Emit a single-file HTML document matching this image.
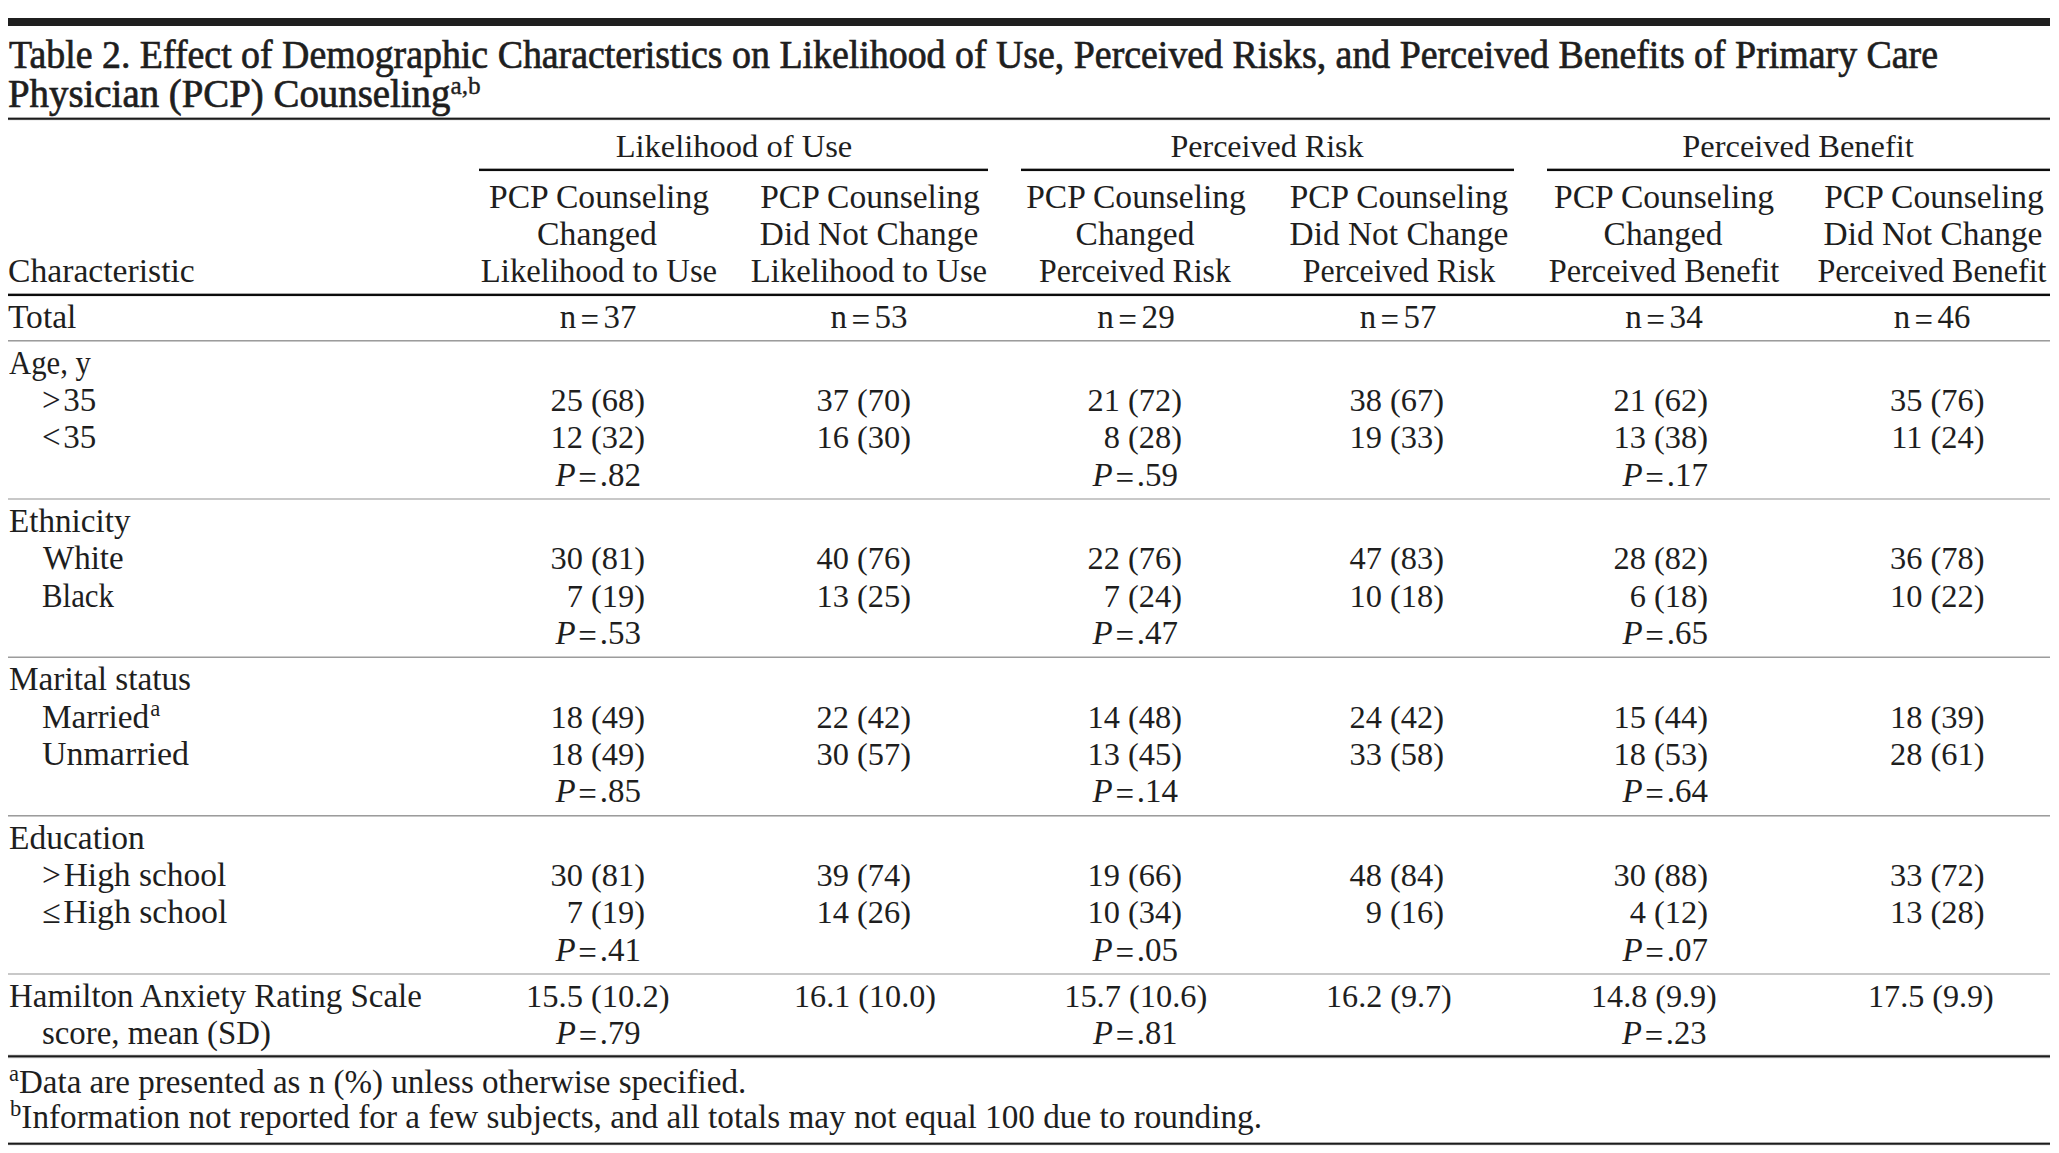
<!DOCTYPE html>
<html><head><meta charset="utf-8"><title>Table 2</title>
<style>
html,body{margin:0;padding:0;background:#fff;}
body{width:2059px;height:1153px;position:relative;overflow:hidden;
 font-family:"Liberation Serif","Times New Roman",serif;font-size:33px;line-height:33px;color:#1e1e1e;}
div{position:absolute;white-space:nowrap;}
.eq{margin:0 4.5px;position:relative;top:2.6px;}
.pe{position:relative;top:2.8px;}
.tt{-webkit-text-stroke:0.7px #1e1e1e;}
sup{line-height:0;}
.ts{font-size:26px;vertical-align:0;position:relative;top:-13px;-webkit-text-stroke:0.4px #1e1e1e;}
.s{font-size:22.5px;vertical-align:0;position:relative;top:-11.7px;margin-left:1px;}
.f{font-size:22.5px;vertical-align:0;position:relative;top:-12px;}
</style></head><body>
<div class="r" style="left:8px;width:2042px;top:18px;height:8px;background:#1f1f1f"></div>
<div class="r" style="left:8px;width:2042px;top:117px;height:1px;background:#a8a8a8"></div>
<div class="r" style="left:8px;width:2042px;top:118px;height:1px;background:#1c1c1c"></div>
<div class="r" style="left:8px;width:2042px;top:119px;height:1px;background:#4a4a4a"></div>
<div class="r" style="left:8px;width:2042px;top:120px;height:1px;background:#f0f0f0"></div>
<div class="r" style="left:479px;width:509px;top:168px;height:1px;background:#a8a8a8"></div>
<div class="r" style="left:479px;width:509px;top:169px;height:1px;background:#0c0c0c"></div>
<div class="r" style="left:479px;width:509px;top:170px;height:1px;background:#0c0c0c"></div>
<div class="r" style="left:479px;width:509px;top:171px;height:1px;background:#ececec"></div>
<div class="r" style="left:1021px;width:493px;top:168px;height:1px;background:#a8a8a8"></div>
<div class="r" style="left:1021px;width:493px;top:169px;height:1px;background:#0c0c0c"></div>
<div class="r" style="left:1021px;width:493px;top:170px;height:1px;background:#0c0c0c"></div>
<div class="r" style="left:1021px;width:493px;top:171px;height:1px;background:#ececec"></div>
<div class="r" style="left:1547px;width:503px;top:168px;height:1px;background:#a8a8a8"></div>
<div class="r" style="left:1547px;width:503px;top:169px;height:1px;background:#0c0c0c"></div>
<div class="r" style="left:1547px;width:503px;top:170px;height:1px;background:#0c0c0c"></div>
<div class="r" style="left:1547px;width:503px;top:171px;height:1px;background:#ececec"></div>
<div class="r" style="left:8px;width:2042px;top:293px;height:1px;background:#a8a8a8"></div>
<div class="r" style="left:8px;width:2042px;top:294px;height:1px;background:#0c0c0c"></div>
<div class="r" style="left:8px;width:2042px;top:295px;height:1px;background:#0c0c0c"></div>
<div class="r" style="left:8px;width:2042px;top:296px;height:1px;background:#ececec"></div>
<div class="r" style="left:8px;width:2042px;top:340px;height:1px;background:#9c9c9c"></div>
<div class="r" style="left:8px;width:2042px;top:341px;height:1px;background:#c8c8c8"></div>
<div class="r" style="left:8px;width:2042px;top:498px;height:1px;background:#c8c8c8"></div>
<div class="r" style="left:8px;width:2042px;top:499px;height:1px;background:#c8c8c8"></div>
<div class="r" style="left:8px;width:2042px;top:656px;height:1px;background:#cdcdcd"></div>
<div class="r" style="left:8px;width:2042px;top:657px;height:1px;background:#9c9c9c"></div>
<div class="r" style="left:8px;width:2042px;top:815px;height:1px;background:#9c9c9c"></div>
<div class="r" style="left:8px;width:2042px;top:816px;height:1px;background:#c8c8c8"></div>
<div class="r" style="left:8px;width:2042px;top:973px;height:1px;background:#c8c8c8"></div>
<div class="r" style="left:8px;width:2042px;top:974px;height:1px;background:#c8c8c8"></div>
<div class="r" style="left:8px;width:2042px;top:1054px;height:1px;background:#e6e6e6"></div>
<div class="r" style="left:8px;width:2042px;top:1055px;height:1px;background:#505050"></div>
<div class="r" style="left:8px;width:2042px;top:1056px;height:1px;background:#1c1c1c"></div>
<div class="r" style="left:8px;width:2042px;top:1057px;height:1px;background:#8a8a8a"></div>
<div class="r" style="left:8px;width:2042px;top:1058px;height:1px;background:#f0f0f0"></div>
<div class="r" style="left:8px;width:2042px;top:1142px;height:1px;background:#a8a8a8"></div>
<div class="r" style="left:8px;width:2042px;top:1143px;height:1px;background:#1c1c1c"></div>
<div class="r" style="left:8px;width:2042px;top:1144px;height:1px;background:#505050"></div>
<div class="r" style="left:8px;width:2042px;top:1145px;height:1px;background:#f0f0f0"></div>
<div class="tt" style="left:9.00px;top:35.00px;font-size:40px;line-height:40px;transform-origin:0 0;transform:scaleX(0.9465);">Table 2. Effect of Demographic Characteristics on Likelihood of Use, Perceived Risks, and Perceived Benefits of Primary Care</div>
<div class="tt" style="left:7.97px;top:74.00px;font-size:40px;line-height:40px;transform-origin:0 0;transform:scaleX(0.9712);">Physician (PCP) Counseling<sup class="ts">a,b</sup></div>
<div style="left:134.25px;width:1200px;text-align:center;top:130.00px;font-size:32.3px;line-height:32.3px;transform-origin:50% 0;transform:scaleX(1.0064);">Likelihood of Use</div>
<div style="left:667.25px;width:1200px;text-align:center;top:130.00px;font-size:32.3px;line-height:32.3px;transform-origin:50% 0;transform:scaleX(0.9923);">Perceived Risk</div>
<div style="left:1198.00px;width:1200px;text-align:center;top:130.00px;font-size:32.3px;line-height:32.3px;transform-origin:50% 0;transform:scaleX(1.0044);">Perceived Benefit</div>
<div style="left:-1.30px;width:1200px;text-align:center;top:181.00px;transform-origin:50% 0;transform:scaleX(1.0187);">PCP Counseling</div>
<div style="left:-2.71px;width:1200px;text-align:center;top:218.00px;transform-origin:50% 0;transform:scaleX(1.0216);">Changed</div>
<div style="left:-1.50px;width:1200px;text-align:center;top:255.00px;transform-origin:50% 0;transform:scaleX(0.9916);">Likelihood to Use</div>
<div style="left:269.80px;width:1200px;text-align:center;top:181.00px;transform-origin:50% 0;transform:scaleX(1.0163);">PCP Counseling</div>
<div style="left:268.60px;width:1200px;text-align:center;top:218.00px;transform-origin:50% 0;transform:scaleX(1.0094);">Did Not Change</div>
<div style="left:269.20px;width:1200px;text-align:center;top:255.00px;transform-origin:50% 0;transform:scaleX(0.9916);">Likelihood to Use</div>
<div style="left:536.10px;width:1200px;text-align:center;top:181.00px;transform-origin:50% 0;transform:scaleX(1.0164);">PCP Counseling</div>
<div style="left:534.80px;width:1200px;text-align:center;top:218.00px;transform-origin:50% 0;transform:scaleX(1.0130);">Changed</div>
<div style="left:535.40px;width:1200px;text-align:center;top:255.00px;transform-origin:50% 0;transform:scaleX(0.9647);">Perceived Risk</div>
<div style="left:798.90px;width:1200px;text-align:center;top:181.00px;transform-origin:50% 0;transform:scaleX(1.0116);">PCP Counseling</div>
<div style="left:798.51px;width:1200px;text-align:center;top:218.00px;transform-origin:50% 0;transform:scaleX(1.0117);">Did Not Change</div>
<div style="left:798.51px;width:1200px;text-align:center;top:255.00px;transform-origin:50% 0;transform:scaleX(0.9672);">Perceived Risk</div>
<div style="left:1064.00px;width:1200px;text-align:center;top:181.00px;transform-origin:50% 0;transform:scaleX(1.0187);">PCP Counseling</div>
<div style="left:1063.40px;width:1200px;text-align:center;top:218.00px;transform-origin:50% 0;transform:scaleX(1.0130);">Changed</div>
<div style="left:1064.01px;width:1200px;text-align:center;top:255.00px;transform-origin:50% 0;transform:scaleX(0.9786);">Perceived Benefit</div>
<div style="left:1333.50px;width:1200px;text-align:center;top:181.00px;transform-origin:50% 0;transform:scaleX(1.0163);">PCP Counseling</div>
<div style="left:1332.60px;width:1200px;text-align:center;top:218.00px;transform-origin:50% 0;transform:scaleX(1.0117);">Did Not Change</div>
<div style="left:1332.12px;width:1200px;text-align:center;top:255.00px;transform-origin:50% 0;transform:scaleX(0.9723);">Perceived Benefit</div>
<div style="left:8.48px;top:255.00px;transform-origin:0 0;transform:scaleX(1.0194);">Characteristic</div>
<div style="left:7.99px;top:301.00px;transform-origin:0 0;transform:scaleX(1.0152);">Total</div>
<div style="left:-2.30px;width:1200px;text-align:center;top:301.00px;transform-origin:50% 0;transform:scaleX(0.9937);">n<span class="eq">=</span>37</div>
<div style="left:269.30px;width:1200px;text-align:center;top:301.00px;transform-origin:50% 0;transform:scaleX(1.0002);">n<span class="eq">=</span>53</div>
<div style="left:536.02px;width:1200px;text-align:center;top:301.00px;transform-origin:50% 0;transform:scaleX(1.0068);">n<span class="eq">=</span>29</div>
<div style="left:797.99px;width:1200px;text-align:center;top:301.00px;transform-origin:50% 0;transform:scaleX(0.9937);">n<span class="eq">=</span>57</div>
<div style="left:1064.30px;width:1200px;text-align:center;top:301.00px;transform-origin:50% 0;transform:scaleX(1.0066);">n<span class="eq">=</span>34</div>
<div style="left:1332.40px;width:1200px;text-align:center;top:301.00px;transform-origin:50% 0;transform:scaleX(0.9937);">n<span class="eq">=</span>46</div>
<div style="left:9.03px;top:347.00px;transform-origin:0 0;transform:scaleX(0.9311);">Age, y</div>
<div style="left:41.60px;top:384.00px;transform-origin:0 0;transform:scaleX(1.0002);">&gt; 35</div>
<div style="left:-555.00px;width:1200px;text-align:right;top:384.00px;font-size:32.4px;line-height:32.4px;">25 (68)</div>
<div style="left:-289.00px;width:1200px;text-align:right;top:384.00px;font-size:32.4px;line-height:32.4px;">37 (70)</div>
<div style="left:-18.00px;width:1200px;text-align:right;top:384.00px;font-size:32.4px;line-height:32.4px;">21 (72)</div>
<div style="left:244.00px;width:1200px;text-align:right;top:384.00px;font-size:32.4px;line-height:32.4px;">38 (67)</div>
<div style="left:508.00px;width:1200px;text-align:right;top:384.00px;font-size:32.4px;line-height:32.4px;">21 (62)</div>
<div style="left:784.50px;width:1200px;text-align:right;top:384.00px;font-size:32.4px;line-height:32.4px;">35 (76)</div>
<div style="left:41.60px;top:421.00px;transform-origin:0 0;transform:scaleX(1.0002);">&lt; 35</div>
<div style="left:-555.00px;width:1200px;text-align:right;top:421.00px;font-size:32.4px;line-height:32.4px;">12 (32)</div>
<div style="left:-289.00px;width:1200px;text-align:right;top:421.00px;font-size:32.4px;line-height:32.4px;">16 (30)</div>
<div style="left:-18.00px;width:1200px;text-align:right;top:421.00px;font-size:32.4px;line-height:32.4px;"> 8 (28)</div>
<div style="left:244.00px;width:1200px;text-align:right;top:421.00px;font-size:32.4px;line-height:32.4px;">19 (33)</div>
<div style="left:508.00px;width:1200px;text-align:right;top:421.00px;font-size:32.4px;line-height:32.4px;">13 (38)</div>
<div style="left:784.50px;width:1200px;text-align:right;top:421.00px;font-size:32.4px;line-height:32.4px;">11 (24)</div>
<div style="left:555.40px;top:459.00px;"><i>P</i> <span class="pe">=</span> .82</div>
<div style="left:1092.50px;top:459.00px;"><i>P</i> <span class="pe">=</span> .59</div>
<div style="left:1622.40px;top:459.00px;"><i>P</i> <span class="pe">=</span> .17</div>
<div style="left:9.00px;top:505.00px;transform-origin:0 0;transform:scaleX(1.0042);">Ethnicity</div>
<div style="left:43.00px;top:542.00px;">White</div>
<div style="left:-555.00px;width:1200px;text-align:right;top:542.00px;font-size:32.4px;line-height:32.4px;">30 (81)</div>
<div style="left:-289.00px;width:1200px;text-align:right;top:542.00px;font-size:32.4px;line-height:32.4px;">40 (76)</div>
<div style="left:-18.00px;width:1200px;text-align:right;top:542.00px;font-size:32.4px;line-height:32.4px;">22 (76)</div>
<div style="left:244.00px;width:1200px;text-align:right;top:542.00px;font-size:32.4px;line-height:32.4px;">47 (83)</div>
<div style="left:508.00px;width:1200px;text-align:right;top:542.00px;font-size:32.4px;line-height:32.4px;">28 (82)</div>
<div style="left:784.50px;width:1200px;text-align:right;top:542.00px;font-size:32.4px;line-height:32.4px;">36 (78)</div>
<div style="left:42.04px;top:580.00px;transform-origin:0 0;transform:scaleX(0.9354);">Black</div>
<div style="left:-555.00px;width:1200px;text-align:right;top:580.00px;font-size:32.4px;line-height:32.4px;"> 7 (19)</div>
<div style="left:-289.00px;width:1200px;text-align:right;top:580.00px;font-size:32.4px;line-height:32.4px;">13 (25)</div>
<div style="left:-18.00px;width:1200px;text-align:right;top:580.00px;font-size:32.4px;line-height:32.4px;"> 7 (24)</div>
<div style="left:244.00px;width:1200px;text-align:right;top:580.00px;font-size:32.4px;line-height:32.4px;">10 (18)</div>
<div style="left:508.00px;width:1200px;text-align:right;top:580.00px;font-size:32.4px;line-height:32.4px;"> 6 (18)</div>
<div style="left:784.50px;width:1200px;text-align:right;top:580.00px;font-size:32.4px;line-height:32.4px;">10 (22)</div>
<div style="left:555.40px;top:617.00px;"><i>P</i> <span class="pe">=</span> .53</div>
<div style="left:1092.50px;top:617.00px;"><i>P</i> <span class="pe">=</span> .47</div>
<div style="left:1622.40px;top:617.00px;"><i>P</i> <span class="pe">=</span> .65</div>
<div style="left:8.99px;top:663.00px;transform-origin:0 0;transform:scaleX(1.0084);">Marital status</div>
<div style="left:42.00px;top:701.00px;transform-origin:0 0;transform:scaleX(1.0086);">Married<sup class="s">a</sup></div>
<div style="left:-555.00px;width:1200px;text-align:right;top:701.00px;font-size:32.4px;line-height:32.4px;">18 (49)</div>
<div style="left:-289.00px;width:1200px;text-align:right;top:701.00px;font-size:32.4px;line-height:32.4px;">22 (42)</div>
<div style="left:-18.00px;width:1200px;text-align:right;top:701.00px;font-size:32.4px;line-height:32.4px;">14 (48)</div>
<div style="left:244.00px;width:1200px;text-align:right;top:701.00px;font-size:32.4px;line-height:32.4px;">24 (42)</div>
<div style="left:508.00px;width:1200px;text-align:right;top:701.00px;font-size:32.4px;line-height:32.4px;">15 (44)</div>
<div style="left:784.50px;width:1200px;text-align:right;top:701.00px;font-size:32.4px;line-height:32.4px;">18 (39)</div>
<div style="left:42.38px;top:738.00px;transform-origin:0 0;transform:scaleX(1.0282);">Unmarried</div>
<div style="left:-555.00px;width:1200px;text-align:right;top:738.00px;font-size:32.4px;line-height:32.4px;">18 (49)</div>
<div style="left:-289.00px;width:1200px;text-align:right;top:738.00px;font-size:32.4px;line-height:32.4px;">30 (57)</div>
<div style="left:-18.00px;width:1200px;text-align:right;top:738.00px;font-size:32.4px;line-height:32.4px;">13 (45)</div>
<div style="left:244.00px;width:1200px;text-align:right;top:738.00px;font-size:32.4px;line-height:32.4px;">33 (58)</div>
<div style="left:508.00px;width:1200px;text-align:right;top:738.00px;font-size:32.4px;line-height:32.4px;">18 (53)</div>
<div style="left:784.50px;width:1200px;text-align:right;top:738.00px;font-size:32.4px;line-height:32.4px;">28 (61)</div>
<div style="left:555.40px;top:775.00px;"><i>P</i> <span class="pe">=</span> .85</div>
<div style="left:1092.50px;top:775.00px;"><i>P</i> <span class="pe">=</span> .14</div>
<div style="left:1622.40px;top:775.00px;"><i>P</i> <span class="pe">=</span> .64</div>
<div style="left:8.99px;top:822.00px;transform-origin:0 0;transform:scaleX(1.0151);">Education</div>
<div style="left:41.57px;top:859.00px;transform-origin:0 0;transform:scaleX(1.0140);">&gt; High school</div>
<div style="left:-555.00px;width:1200px;text-align:right;top:859.00px;font-size:32.4px;line-height:32.4px;">30 (81)</div>
<div style="left:-289.00px;width:1200px;text-align:right;top:859.00px;font-size:32.4px;line-height:32.4px;">39 (74)</div>
<div style="left:-18.00px;width:1200px;text-align:right;top:859.00px;font-size:32.4px;line-height:32.4px;">19 (66)</div>
<div style="left:244.00px;width:1200px;text-align:right;top:859.00px;font-size:32.4px;line-height:32.4px;">48 (84)</div>
<div style="left:508.00px;width:1200px;text-align:right;top:859.00px;font-size:32.4px;line-height:32.4px;">30 (88)</div>
<div style="left:784.50px;width:1200px;text-align:right;top:859.00px;font-size:32.4px;line-height:32.4px;">33 (72)</div>
<div style="left:41.56px;top:896.00px;transform-origin:0 0;transform:scaleX(1.0223);">≤ High school</div>
<div style="left:-555.00px;width:1200px;text-align:right;top:896.00px;font-size:32.4px;line-height:32.4px;"> 7 (19)</div>
<div style="left:-289.00px;width:1200px;text-align:right;top:896.00px;font-size:32.4px;line-height:32.4px;">14 (26)</div>
<div style="left:-18.00px;width:1200px;text-align:right;top:896.00px;font-size:32.4px;line-height:32.4px;">10 (34)</div>
<div style="left:244.00px;width:1200px;text-align:right;top:896.00px;font-size:32.4px;line-height:32.4px;"> 9 (16)</div>
<div style="left:508.00px;width:1200px;text-align:right;top:896.00px;font-size:32.4px;line-height:32.4px;"> 4 (12)</div>
<div style="left:784.50px;width:1200px;text-align:right;top:896.00px;font-size:32.4px;line-height:32.4px;">13 (28)</div>
<div style="left:555.40px;top:934.00px;"><i>P</i> <span class="pe">=</span> .41</div>
<div style="left:1092.50px;top:934.00px;"><i>P</i> <span class="pe">=</span> .05</div>
<div style="left:1622.40px;top:934.00px;"><i>P</i> <span class="pe">=</span> .07</div>
<div style="left:8.50px;top:980.00px;transform-origin:0 0;transform:scaleX(0.9988);">Hamilton Anxiety Rating Scale</div>
<div style="left:41.61px;top:1017.00px;transform-origin:0 0;transform:scaleX(0.9956);">score, mean (SD)</div>
<div style="left:525.99px;top:980.00px;font-size:32.4px;line-height:32.4px;transform-origin:0 0;transform:scaleX(1.0036);">15.5 (10.2)</div>
<div style="left:794.02px;top:980.00px;font-size:32.4px;line-height:32.4px;transform-origin:0 0;transform:scaleX(0.9928);">16.1 (10.0)</div>
<div style="left:1064.20px;top:980.00px;font-size:32.4px;line-height:32.4px;">15.7 (10.6)</div>
<div style="left:1326.02px;top:980.00px;font-size:32.4px;line-height:32.4px;transform-origin:0 0;transform:scaleX(0.9919);">16.2 (9.7)</div>
<div style="left:1590.83px;top:980.00px;font-size:32.4px;line-height:32.4px;transform-origin:0 0;transform:scaleX(0.9918);">14.8 (9.9)</div>
<div style="left:1867.62px;top:980.00px;font-size:32.4px;line-height:32.4px;transform-origin:0 0;transform:scaleX(0.9919);">17.5 (9.9)</div>
<div style="left:556.00px;top:1017.00px;transform-origin:0 0;transform:scaleX(0.9882);"><i>P</i> <span class="pe">=</span> .79</div>
<div style="left:1093.00px;top:1017.00px;transform-origin:0 0;transform:scaleX(0.9880);"><i>P</i> <span class="pe">=</span> .81</div>
<div style="left:1622.01px;top:1017.00px;transform-origin:0 0;transform:scaleX(0.9881);"><i>P</i> <span class="pe">=</span> .23</div>
<div style="left:8.50px;top:1066.00px;transform-origin:0 0;transform:scaleX(1.0007);"><sup class="f">a</sup>Data are presented as n (%) unless otherwise specified.</div>
<div style="left:10.00px;top:1101.00px;transform-origin:0 0;transform:scaleX(1.0073);"><sup class="f">b</sup>Information not reported for a few subjects, and all totals may not equal 100 due to rounding.</div>
</body></html>
